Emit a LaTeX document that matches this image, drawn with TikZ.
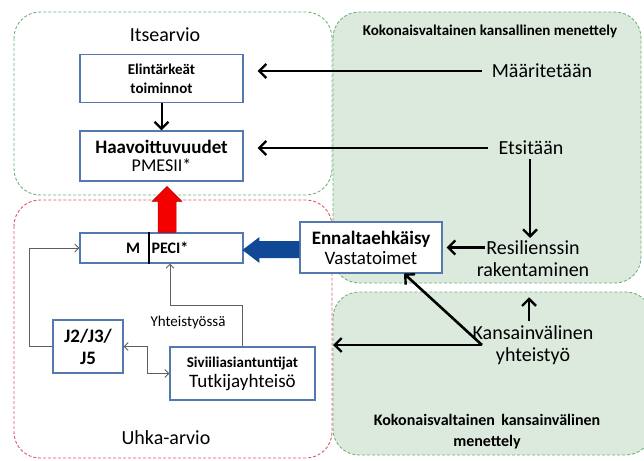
\documentclass[tikz,border=0pt]{standalone}
\usepackage{fontspec}
\setmainfont{Carlito}
\usetikzlibrary{arrows.meta,calc}
\definecolor{boxblue}{RGB}{84,120,176}
\definecolor{grnfill}{RGB}{220,234,222}
\definecolor{grnline}{RGB}{112,178,122}
\definecolor{redline}{RGB}{226,84,104}
\definecolor{arrred}{RGB}{245,0,0}
\definecolor{arrblue}{RGB}{16,72,150}
\definecolor{graylin}{RGB}{95,95,95}
\newcommand{\fs}[1]{\fontsize{#1}{#1}\selectfont}
\begin{document}
\begin{tikzpicture}[x=1pt,y=-1pt,
  box/.style={draw=boxblue,line width=1.1pt,fill=white,align=center,inner sep=0pt},
  lbl/.style={align=center,inner sep=0pt,font=\fs{20}},
  hdr/.style={align=center,inner sep=0pt,font=\fs{15}\bfseries},
  blk/.style={draw=black,line width=2.6pt,-{Straight Barb[length=7pt,width=14pt,line width=2.4pt]}},
  gry/.style={draw=graylin,line width=0.9pt,-{Straight Barb[length=4pt,width=8pt,line width=0.9pt]}},
  gryb/.style={draw=graylin,line width=0.9pt,{Straight Barb[length=4pt,width=8pt,line width=0.9pt]}-{Straight Barb[length=4pt,width=8pt,line width=0.9pt]}},
  region/.style={dashed,dash pattern=on 3pt off 2pt,line width=0.9pt,rounded corners=26pt}
]
\useasboundingbox (0,0) rectangle (644,460);
\fill[white] (0,0) rectangle (644,460);

% green regions
\draw[region,draw=grnline,fill=grnfill] (333,12) rectangle (641,283);
\draw[region,draw=grnline,fill=grnfill] (333,292) rectangle (652,455);
% Itsearvio and Uhka-arvio regions
\draw[region,draw=grnline] (14,12) rectangle (332,195);
\draw[region,draw=redline] (14,200) rectangle (332,458);

% labels in regions
\node[lbl] (its) at (165,35) {Itsearvio};
\node[lbl] (uhka) at (166,438) {Uhka-arvio};
\node[hdr] (kkm) at (490,31) {Kokonaisvaltainen kansallinen menettely};
\node[hdr,font=\fs{16}\bfseries] (kkvm) at (487,432) {Kokonaisvaltainen\, kansainvälinen\\[5pt]menettely};

% boxes
\node[box,minimum width=163pt,minimum height=48pt,font=\fs{15}\bfseries] (elin) at (161.5,78.5) {Elintärkeät\\[4pt]toiminnot};
\node[box,minimum width=163pt,minimum height=50pt] (haav) at (161.5,156) {{\fs{19}\bfseries Haavoittuvuudet}\\[4pt]{\fs{18}PMESII*}};
\node[box,minimum width=163pt,minimum height=30pt] (mpeci) at (161.5,248) {};
\node[inner sep=0pt,font=\fs{16}\bfseries] (mtx) at (133,248) {M};
\node[inner sep=0pt,font=\fs{16}\bfseries] (ptx) at (170,248) {PECI*};
\draw[line width=1.3pt] ([xshift=-12.5pt]mpeci.north) -- ([xshift=-12.5pt]mpeci.south);
\node[box,minimum width=142pt,minimum height=51pt] (enn) at (371,247.5) {{\fs{19}\bfseries Ennaltaehkäisy}\\[3pt]{\fs{19}Vastatoimet}};
\node[box,minimum width=70pt,minimum height=53pt,font=\fs{19}\bfseries] (j2) at (88,346.5) {J2/J3/\\[3pt]J5};
\node[box,minimum width=145pt,minimum height=53pt] (sivi) at (242.5,373.5) {{\fs{15}\bfseries Siviiliasiantuntijat}\\[3pt]{\fs{19}Tutkijayhteisö}};

% right labels
\node[lbl] (maar) at (542,71) {Määritetään};
\node[lbl] (ets) at (531,148) {Etsitään};
\node[lbl] (res) at (533,259) {Resilienssin\\[2pt]rakentaminen};
\node[lbl] (kans) at (533,345) {Kansainvälinen\\[2pt]yhteistyö};
\coordinate (kj) at (482,345);

% black arrows
\draw[blk,line width=2pt] (elin.south) -- (haav.north);
\draw[blk] ([xshift=-10pt]maar.west) -- ([xshift=14pt]elin.east |- maar.west);
\draw[blk] ([xshift=-10pt]ets.west) -- ([xshift=14pt]haav.east |- ets.west);
\draw[blk] ([xshift=-1pt,yshift=-4pt]ets.south) -- ([xshift=-1pt,yshift=-238pt]ets.south |- 0,0);
\draw[blk] ([xshift=8pt]res.west |- enn.east) -- ([xshift=4pt]enn.east);
\draw[blk] ([xshift=-4pt,yshift=4pt]kans.north) -- ++(0,-24);
\draw[blk] (kj) -- ([xshift=33pt]enn.south);
\draw[blk] (kj) -- (333,345);

% gray connectors
\draw[gry] (j2.west) -- ++(-23,0) |- (mpeci.west);
\draw[gryb] (j2.east) -- ++(24,0) |- (sivi.west);
\draw[gry] (sivi.north) -- ++(0,-41) -| ([xshift=8.5pt]mpeci.south);
\node[inner sep=0pt,font=\fs{15}] (yht) at (188,322) {Yhteistyössä};

% red block arrow (mpeci -> haav)
\fill[arrred,draw=red!70!black,line width=0.5pt]
  ($(mpeci.north)+(-3.5,0)$) -- ++(0,-31) -- ++(-6,0) -- ++(15,-15) -- ++(15,15) -- ++(-6,0) -- ++(0,31) -- cycle;
% blue block arrow (enn -> mpeci)
\fill[arrblue]
  ($(enn.west)+(0,-6.5)$) -- ++(-40,0) -- ++(0,-4) -- ++(-17,13) -- ++(17,13) -- ++(0,-5) -- ++(40,0) -- cycle;
\end{tikzpicture}
\end{document}
